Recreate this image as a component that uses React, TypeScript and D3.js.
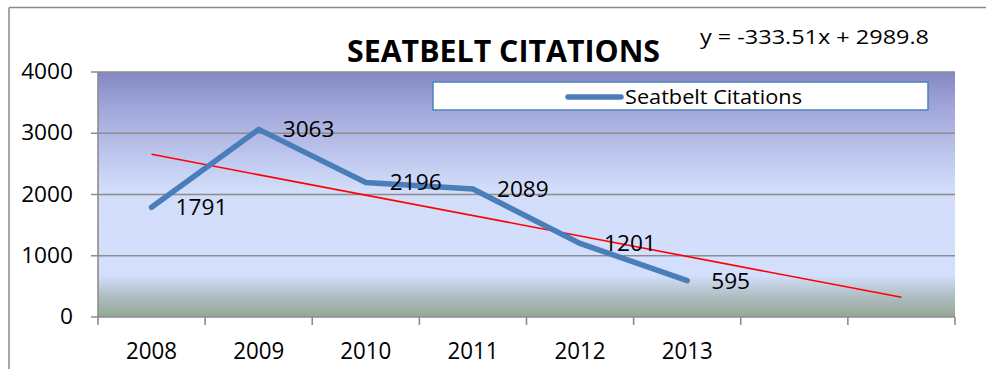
import React from "react";
import * as d3 from "d3";

const years = ["2008", "2009", "2010", "2011", "2012", "2013", "", ""];
const citations = [1791, 3063, 2196, 2089, 1201, 595];
const yTicks = [0, 1000, 2000, 3000, 4000];
const trendSlope = -333.51;
const trendIntercept = 2989.8;
const title = "SEATBELT CITATIONS";
const seriesName = "Seatbelt Citations";
const equation = "y = -333.51x + 2989.8";

const W = 986, H = 369;
const plot = { left: 98, right: 955, top: 72, bottom: 317 };
const FONT = "'Open Sans', 'Noto Sans', sans-serif";

function T({ x, y, size, sx = 1, anchor = "start", weight = 400, children, len }: any) {
  return (
    <text
      transform={`translate(${x},${y}) scale(${sx},1)`}
      fontFamily={FONT}
      fontSize={size}
      fontWeight={weight}
      textAnchor={anchor}
      fill="#000"
      textLength={len}
      lengthAdjust={len ? "spacingAndGlyphs" : undefined}
    >
      {children}
    </text>
  );
}

export default function App() {
  const idx = years.map((_, i) => i);
  const x = d3.scaleBand<number>().domain(idx).range([plot.left, plot.right]).padding(0);
  const cx = (i: number) => (x(i) as number) + x.bandwidth() / 2;
  const y = d3.scaleLinear().domain([0, 4000]).range([plot.bottom, plot.top]);

  const line = d3
    .line<number>()
    .x((_, i) => cx(i))
    .y((d) => y(d));

  const trendPts = [1, years.length].map((k) => [cx(k - 1), y(trendIntercept + trendSlope * k)] as [number, number]);
  const boundaries = d3.range(years.length + 1).map((i) => plot.left + i * x.bandwidth());

  return (
    <svg width={W} height={H} style={{ position: "absolute", left: 0, top: 0, display: "block" }}>
      <defs>
        <linearGradient id="bg" x1="0" y1="0" x2="0" y2="1">
          <stop offset="0%" stopColor="#8488C3" />
          <stop offset="15%" stopColor="#A1A7DA" />
          <stop offset="48%" stopColor="#D2DDFA" />
          <stop offset="83%" stopColor="#D3DFFC" />
          <stop offset="92%" stopColor="#AEBCC0" />
          <stop offset="100%" stopColor="#93A893" />
        </linearGradient>
      </defs>
      <rect x={0} y={0} width={W} height={H} fill="#fff" />
      {/* outer border */}
      <line x1={9} y1={7.5} x2={W} y2={7.5} stroke="#8a8a8a" strokeWidth={1.5} />
      <line x1={9} y1={7.5} x2={9} y2={H} stroke="#8a8a8a" strokeWidth={1.5} />

      <rect x={plot.left} y={plot.top} width={plot.right - plot.left} height={plot.bottom - plot.top} fill="url(#bg)" />

      {/* gridlines */}
      {yTicks.map((t) => (
        <line key={t} x1={plot.left - 7} x2={plot.right} y1={y(t)} y2={y(t)} stroke="#8c8c8c" strokeWidth={1.6} />
      ))}
      {/* axes */}
      <line x1={plot.left} x2={plot.left} y1={plot.top} y2={plot.bottom} stroke="#8c8c8c" strokeWidth={1.6} />
      {boundaries.map((b, i) => (
        <line key={i} x1={b} x2={b} y1={plot.bottom} y2={plot.bottom + 8} stroke="#8c8c8c" strokeWidth={1.6} />
      ))}

      {/* y labels */}
      {yTicks.map((t) => (
        <T key={t} x={73} y={y(t) + 7} size={21} sx={1.08} anchor="end">
          {t}
        </T>
      ))}
      {/* x labels */}
      {years.map((yr, i) => (
        <T key={i} x={cx(i)} y={359} size={24} sx={0.93} anchor="middle">
          {yr}
        </T>
      ))}

      {/* trendline */}
      <line x1={trendPts[0][0]} y1={trendPts[0][1]} x2={trendPts[1][0]} y2={trendPts[1][1]} stroke="#FF0000" strokeWidth={1.6} />

      {/* series */}
      <path d={line(citations) as string} fill="none" stroke="#4A7EBB" strokeWidth={5.5} strokeLinecap="round" strokeLinejoin="miter" />

      {/* data labels */}
      {citations.map((v, i) => (
        <T key={i} x={cx(i) + 24} y={y(v) + 8} size={21} sx={1.08}>
          {v}
        </T>
      ))}

      {/* legend */}
      <rect x={433} y={82} width={495} height={28} fill="#fff" stroke="#4F81BD" strokeWidth={1.5} />
      <line x1={568} x2={621} y1={97} y2={97} stroke="#4A7EBB" strokeWidth={5.5} strokeLinecap="round" />
      <T x={625} y={104} size={20} len={177}>
        {seriesName}
      </T>

      {/* title */}
      <T x={347} y={62} size={30} weight={700} len={313}>
        {title}
      </T>
      {/* equation */}
      <T x={700} y={44} size={20} len={229}>
        {equation}
      </T>
    </svg>
  );
}
